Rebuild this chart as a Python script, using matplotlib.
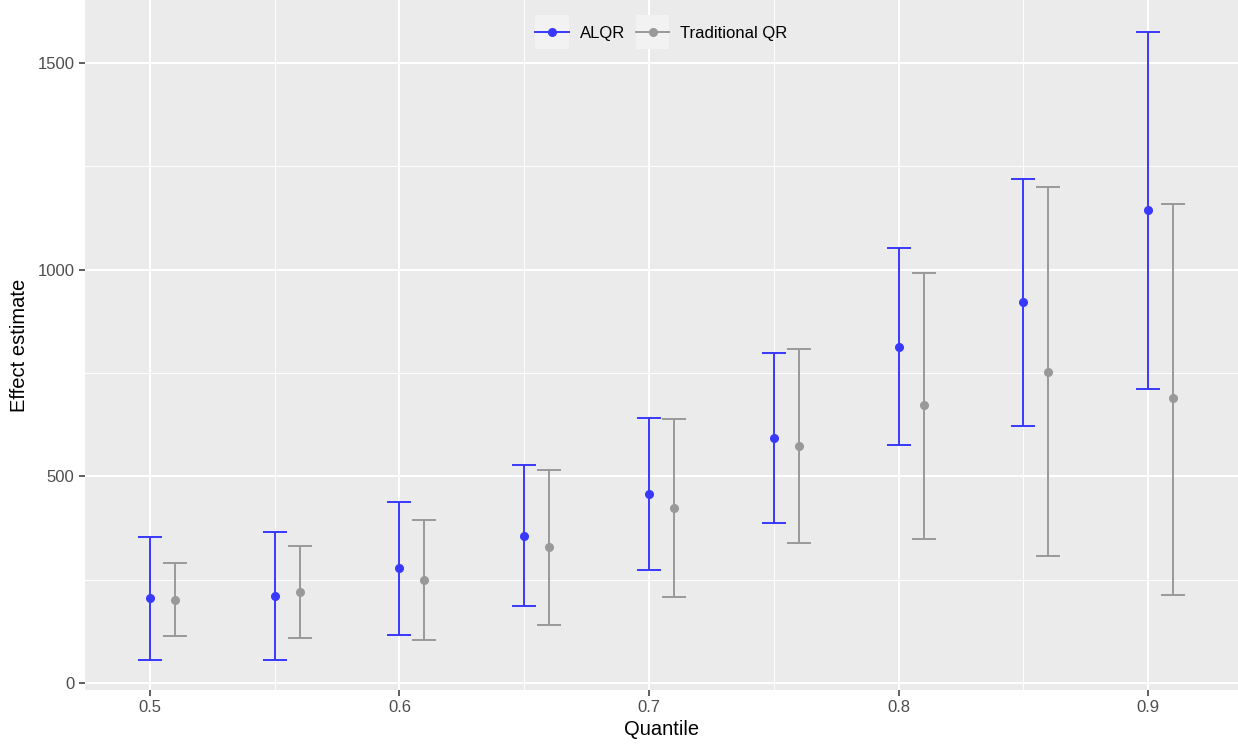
import matplotlib.pyplot as plt
from matplotlib.legend_handler import HandlerLine2D
from matplotlib.patches import Rectangle
from matplotlib.ticker import MultipleLocator

plt.rcParams['font.family'] = ['Liberation Sans', 'DejaVu Sans']

quantiles = [0.5, 0.55, 0.6, 0.65, 0.7, 0.75, 0.8, 0.85, 0.9]

alqr_est = [206, 210, 278, 356, 457, 593, 813, 922, 1144]
alqr_low = [56, 56, 116, 186, 273, 387, 576, 622, 711]
alqr_high = [353, 365, 438, 527, 641, 798, 1052, 1219, 1575]

trad_est = [201, 220, 249, 329, 423, 573, 672, 752, 689]
trad_low = [114, 109, 104, 140, 208, 339, 348, 307, 213]
trad_high = [290, 331, 394, 515, 639, 808, 992, 1200, 1159]

offset = 0.01
blue = '#3838FF'
grey = '#999999'


class KeyHandler(HandlerLine2D):
    # ggplot-like legend key with light grey background
    def create_artists(self, legend, orig_handle, xdescent, ydescent, width, height, fontsize, trans):
        cy = -ydescent + height / 2
        h = 24.5
        bg = Rectangle((-xdescent, cy - h / 2), width, h,
                       facecolor='#F2F2F2', edgecolor='none', transform=trans)
        arts = super().create_artists(legend, orig_handle, xdescent, ydescent, width, height, fontsize, trans)
        return [bg] + list(arts)


fig = plt.figure(figsize=(12.38, 7.44), dpi=100)
ax = fig.add_axes([0.0687, 0.0726, 0.9313, 0.9274])
ax.set_facecolor('#EBEBEB')

def draw_series(x, est, low, high, color, label):
    yerr = [[e - l for e, l in zip(est, low)], [h - e for e, h in zip(est, high)]]
    ax.errorbar(x, est, yerr=yerr, fmt='o', color=color, ecolor=color, elinewidth=1.4,
                capsize=8.6, capthick=1.4, markersize=5.5, zorder=3)
    ax.plot([], [], color=color, marker='o', markersize=5.5, lw=1.4, label=label)

draw_series(quantiles, alqr_est, alqr_low, alqr_high, blue, 'ALQR')
draw_series([q + offset for q in quantiles], trad_est, trad_low, trad_high, grey, 'Traditional QR')

ax.set_xlim(0.474, 0.936)
ax.set_ylim(-17, 1652)
ax.xaxis.set_major_locator(MultipleLocator(0.1))
ax.xaxis.set_minor_locator(MultipleLocator(0.05))
ax.yaxis.set_major_locator(MultipleLocator(500))
ax.yaxis.set_minor_locator(MultipleLocator(250))
ax.set_xticks([0.5, 0.6, 0.7, 0.8, 0.9])
ax.set_xticklabels(['0.5', '0.6', '0.7', '0.8', '0.9'])

ax.grid(which='major', color='white', lw=1.5, zorder=0)
ax.grid(which='minor', color='white', lw=0.7, zorder=0)
ax.set_axisbelow(True)
for s in ax.spines.values():
    s.set_visible(False)
ax.tick_params(which='major', length=4, width=1.1, color='#333333', labelcolor='#4D4D4D', labelsize=12)
ax.tick_params(which='minor', length=0)

ax.set_xlabel('Quantile', fontsize=14.5, labelpad=3)
ax.set_ylabel('Effect estimate', fontsize=14.5, labelpad=6)

leg = ax.legend(loc='center', ncol=2, frameon=False, fontsize=12,
                handlelength=2.0, handletextpad=0.66, columnspacing=0.66,
                bbox_to_anchor=(0.5, 0.951), handler_map={plt.Line2D: KeyHandler()})

fig.savefig('out.png', dpi=100)
